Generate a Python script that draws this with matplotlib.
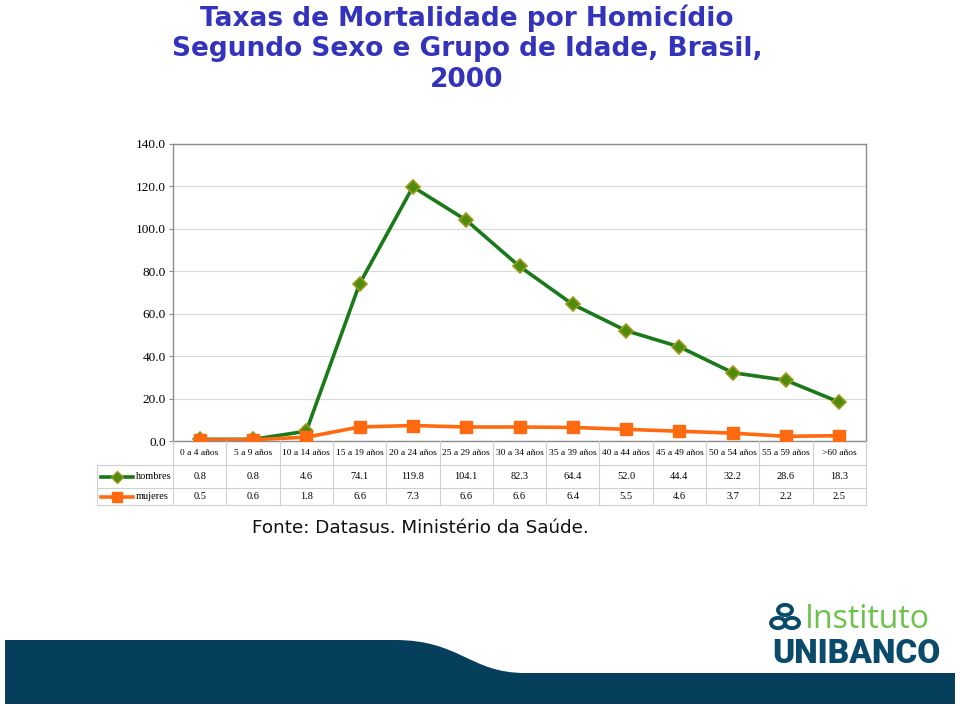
import numpy as np
import matplotlib
matplotlib.use("Agg")
import matplotlib.pyplot as plt
from matplotlib.path import Path
from matplotlib.patches import PathPatch, Circle
from matplotlib.lines import Line2D
from matplotlib.transforms import blended_transform_factory

# datos
grupos = ["0 a 4 años", "5 a 9 años", "10 a 14 años", "15 a 19 años", "20 a 24 años",
          "25 a 29 años", "30 a 34 años", "35 a 39 años", "40 a 44 años", "45 a 49 años",
          "50 a 54 años", "55 a 59 años", ">60 años"]
hombres = [0.8, 0.8, 4.6, 74.1, 119.8, 104.1, 82.3, 64.4, 52.0, 44.4, 32.2, 28.6, 18.3]
mujeres = [0.5, 0.6, 1.8, 6.6, 7.3, 6.6, 6.6, 6.4, 5.5, 4.6, 3.7, 2.2, 2.5]
yticks = [0, 20, 40, 60, 80, 100, 120, 140]

W, H = 960, 706
fig = plt.figure(figsize=(W / 100, H / 100), dpi=100)
fig.patch.set_facecolor("white")


def px(x, y):
    return x / W, 1 - y / H


serif = "Liberation Serif"
c_h, c_hm, c_he = "#1A7A1A", "#4E8B0E", "#9C9A1C"
c_m = "#FF6A10"
grid_c = "#D9D9D9"
border_c = "#8C8C8C"

# area del grafico
ax = fig.add_axes([173 / W, 1 - 441 / H, 693 / W, 297 / H])
x = np.arange(len(grupos))
ax.plot(x, hombres, color=c_h, lw=2.6, marker="D", ms=7.5,
        mfc=c_hm, mec=c_he, mew=1.2, zorder=3)
ax.plot(x, mujeres, color=c_m, lw=2.6, marker="s", ms=8.5,
        mfc=c_m, mec=c_m, zorder=3)
ax.set_xlim(-0.5, len(grupos) - 0.5)
ax.set_ylim(0, 140)
ax.set_yticks(yticks)
ax.set_yticklabels([f"{v:.1f}" for v in yticks], fontfamily=serif, fontsize=9.5)
ax.set_xticks([])
ax.tick_params(axis="y", length=3, color=border_c, pad=2)
ax.grid(axis="y", color=grid_c, lw=0.8)
ax.set_axisbelow(True)
for s in ax.spines.values():
    s.set_color(border_c)
    s.set_linewidth(1.0)

# tabla de datos debajo del grafico
tr = blended_transform_factory(ax.transData, fig.transFigure)
y_top, y_r1, y_r2, y_bot = [1 - v / H for v in (441, 465, 488, 505)]
tcol = "#D0D0D0"
n = len(grupos)
for i in range(n + 1):
    fig.add_artist(Line2D([i - 0.5, i - 0.5], [y_top, y_bot], transform=tr,
                          color=tcol, lw=0.8))
for yy in (y_r1, y_r2, y_bot):
    fig.add_artist(Line2D([97 / W, 866 / W], [yy, yy], transform=fig.transFigure,
                          color=tcol, lw=0.8))
fig.add_artist(Line2D([97 / W, 97 / W], [y_r1, y_bot], transform=fig.transFigure,
                      color=tcol, lw=0.8))

yc_head = (y_top + y_r1) / 2
yc_h = (y_r1 + y_r2) / 2
yc_m = (y_r2 + y_bot) / 2
for i, g in enumerate(grupos):
    fig.text(i, yc_head, g, transform=tr, ha="center", va="center",
             fontfamily=serif, fontsize=6.8)
    fig.text(i, yc_h, f"{hombres[i]:.1f}", transform=tr, ha="center", va="center",
             fontfamily=serif, fontsize=7.5)
    fig.text(i, yc_m, f"{mujeres[i]:.1f}", transform=tr, ha="center", va="center",
             fontfamily=serif, fontsize=7.5)

# leyenda en la tabla
fig.add_artist(Line2D([101 / W, 133 / W], [yc_h, yc_h], transform=fig.transFigure,
                      color=c_h, lw=2.6))
fig.add_artist(Line2D([117 / W], [yc_h], transform=fig.transFigure, marker="D",
                      ms=6, mfc=c_hm, mec=c_he, mew=1))
fig.add_artist(Line2D([101 / W, 133 / W], [yc_m, yc_m], transform=fig.transFigure,
                      color=c_m, lw=2.6))
fig.add_artist(Line2D([117 / W], [yc_m], transform=fig.transFigure, marker="s",
                      ms=7, mfc=c_m, mec=c_m))
fig.text(136 / W, yc_h, "hombres", ha="left", va="center", fontfamily=serif, fontsize=7.5)
fig.text(136 / W, yc_m, "mujeres", ha="left", va="center", fontfamily=serif, fontsize=7.5)

# titulo
fig.text(*px(467, 4), "Taxas de Mortalidade por Homicídio\nSegundo Sexo e Grupo de Idade, Brasil,\n2000",
         ha="center", va="top", ma="center", fontfamily="DejaVu Sans",
         fontweight="bold", fontsize=19, color="#3333BB", linespacing=1.24)

# fuente
fig.text(*px(252, 528), "Fonte: Datasus. Ministério da Saúde.", ha="left", va="center",
         fontfamily="DejaVu Sans", fontsize=13.2, color="#111111")

# banda inferior
verts = [px(5, 640), px(395, 640), px(460, 640), px(470, 673), px(525, 673),
         px(955, 673), px(955, 704), px(5, 704), px(5, 640)]
codes = [Path.MOVETO, Path.LINETO, Path.CURVE4, Path.CURVE4, Path.CURVE4,
         Path.LINETO, Path.LINETO, Path.LINETO, Path.CLOSEPOLY]
fig.add_artist(PathPatch(Path(verts, codes), transform=fig.transFigure,
                         facecolor="#053F5C", edgecolor="none"))

# logo
for cx, cy in ((785, 610), (778, 623), (792, 623)):
    fig.add_artist(Circle(px(cx, cy), 7 / W, transform=fig.transFigure,
                          fill=False, ec="#0A4A6A", lw=2.8))
fig.text(*px(805, 619), "Instituto", ha="left", va="center", fontfamily="Open Sans",
         fontsize=23, color="#6CC24A")
fig.text(*px(856, 654), "UNIBANCO", ha="center", va="center", fontfamily="Roboto",
         fontweight="black", fontsize=24, color="#0A4A6A")

fig.savefig("out.png", dpi=100)
